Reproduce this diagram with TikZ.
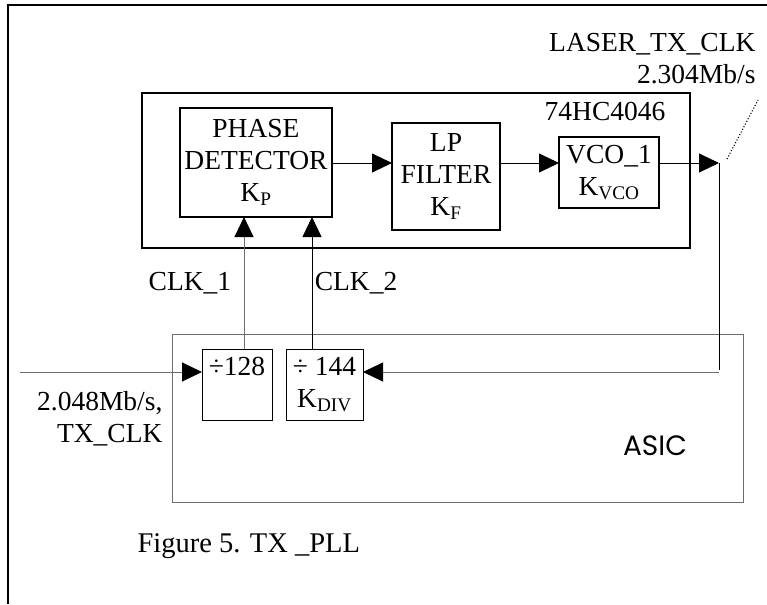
\documentclass[tikz,border=0pt]{standalone}
\usepackage{fontspec}
\setmainfont{Liberation Serif}
\newfontfamily\asicfont{Poppins}
\usetikzlibrary{arrows.meta}
\definecolor{pllink}{HTML}{000000}
\definecolor{pllgrey}{HTML}{6E6E6E}

\begin{document}
\begin{tikzpicture}[x=1pt, y=-1pt, >={Triangle[length=20pt, width=19pt, color=pllink]},
                    every node/.style={pllink, font=\fontsize{27.5}{32}\selectfont},
                    blk/.style={draw, line width=1.6pt, outer sep=0pt, inner sep=0pt, align=center},
                    divbox/.style={draw, line width=0.9pt, outer sep=0pt, inner sep=0pt, align=center},
                    sig/.style={pllink, line width=0.9pt},
                    sigg/.style={pllgrey, line width=1pt}]

  \useasboundingbox (0,0) rectangle (767,604);

  %% 外框
  \draw[pllink, line width=1.6pt] (767,5) -- (8,5) -- (8,604);

  %% 74HC4046 晶片
  \node[blk, minimum width=548pt, minimum height=155pt] (chip) at (416,170.5) {};
  \node (chiplbl) at (605,111) {74HC4046};
  \node[blk, minimum width=152pt, minimum height=109pt] (pd) at (256,162.5)
    {PHASE\\DETECTOR\\K\textsubscript{P}};
  \node[blk, line width=1.2pt, minimum width=108pt, minimum height=107pt] (lp) at (446,176.5)
    {LP\\FILTER\\K\textsubscript{F}};
  \node[blk, line width=1.2pt, minimum width=100pt, minimum height=71pt] (vco) at (609,172.5)
    {VCO\_1\\K\textsubscript{VCO}};

  %% ASIC
  \draw[pllgrey, line width=1pt] (172,334) rectangle (743,502);
  \node (asiclbl) at (655,446) {\asicfont\fontsize{28}{32}\selectfont ASIC};
  \node[divbox, minimum width=70pt, minimum height=71pt] (d128) at (237,384.5)
    {÷128\\\phantom{K\textsubscript{DIV}}};
  \node[divbox, minimum width=77pt, minimum height=71pt] (d144) at (324.5,384.5)
    {÷ 144\\K\textsubscript{DIV}};

  %% 訊號
  \coordinate (out) at (719,163);
  \coordinate (fbk) at (719,372);
  \coordinate (in) at (20,372);
  \draw[sig, ->] (pd.east |- out) -- (out -| lp.west);
  \draw[sig, ->] (out -| lp.east) -- (out -| vco.west);
  \draw[sig, ->] (out -| vco.east) -- (out);
  \draw[sig] (out) -- ([yshift=2pt]fbk);
  \draw[sigg, ->] (fbk) -- (fbk -| d144.east);
  \draw[sigg, ->] (in) -- (in -| d128.west);
  \draw[sigg, ->] ([xshift=7pt]d128.north) -- ([xshift=7pt]d128.north |- pd.south)
    node[midway, left, xshift=-9pt] {CLK\_1};
  \draw[sig, ->] ([xshift=-12.5pt]d144.north) -- ([xshift=-12.5pt]d144.north |- pd.south)
    node[midway, right, xshift=-1pt] {CLK\_2};

  %% 標籤
  \node[anchor=east, align=right] (laser) at (759,59) {LASER\_TX\_CLK\\2.304Mb/s};
  \draw[pllink, line width=1.2pt, dash pattern=on 1pt off 2pt] (727,159) -- (758,100);
  \node[anchor=east, align=right] (rate) at (166,419) {2.048Mb/s,\\TX\_CLK};
  \node[anchor=west, font=\fontsize{28.5}{32}\selectfont] (caption) at (134,546) {Figure 5. TX \_PLL};

\end{tikzpicture}
\end{document}
